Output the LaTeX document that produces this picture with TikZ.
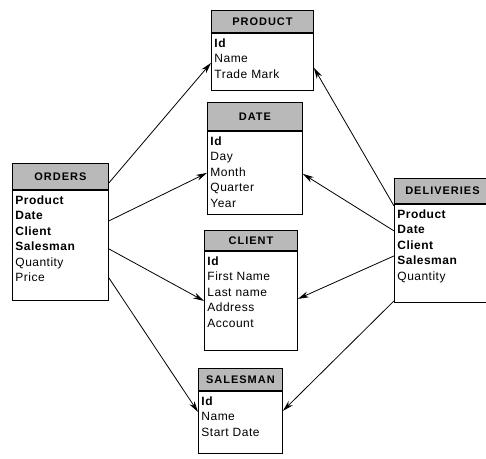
\documentclass[tikz,border=0pt]{standalone}
\usepackage{fontspec}
\setmainfont[LetterSpace=4]{Liberation Sans}
\newfontfamily\hdrfont[LetterSpace=9]{Liberation Sans}
\usetikzlibrary{arrows.meta}
\tikzset{
  thead/.style={draw, fill=gray!55, anchor=north west, inner sep=0pt, font=\hdrfont\bfseries\fontsize{11}{13}\selectfont},
  tbody/.style={draw, fill=white, anchor=north west, align=left, inner xsep=3pt, inner ysep=4pt, text height=10pt, font=\fontsize{12}{15.5}\selectfont},
  link/.style={-{Stealth[length=11pt,width=6pt]}, line width=0.8pt}
}
\begin{document}
\begin{tikzpicture}[x=1pt, y=-1pt, line width=0.9pt]
\useasboundingbox (0,0) rectangle (486,458);
% dimension tables
\node[thead, minimum width=102pt, minimum height=22pt] (prodh) at (211,10) {PRODUCT};
\node[tbody, text width=96pt, text depth=39pt] (prod) at (prodh.south west) {\textbf{Id}\\Name\\Trade Mark};
\node[thead, minimum width=95pt, minimum height=28pt] (dateh) at (207,102) {DATE};
\node[tbody, text width=89pt, text depth=65pt] (date) at (dateh.south west) {\textbf{Id}\\Day\\Month\\Quarter\\Year};
\node[thead, minimum width=93pt, minimum height=20pt] (clih) at (204,230) {CLIENT};
\node[tbody, text width=87pt, text depth=81pt] (cli) at (clih.south west) {\textbf{Id}\\First Name\\Last name\\Address\\Account};
\node[thead, minimum width=84pt, minimum height=22pt] (salh) at (198,368) {SALESMAN};
\node[tbody, text width=78pt, text depth=44pt] (sal) at (salh.south west) {\textbf{Id}\\Name\\Start Date};
% fact tables
\node[thead, minimum width=96pt, minimum height=26pt] (ordh) at (12,163) {ORDERS};
\node[tbody, text width=90pt, text depth=92pt] (ord) at (ordh.south west) {\textbf{Product}\\\textbf{Date}\\\textbf{Client}\\\textbf{Salesman}\\Quantity\\Price};
\node[thead, minimum width=96pt, minimum height=25pt] (delh) at (394,178) {DELIVERIES};
\node[tbody, text width=90pt, text depth=80pt] (del) at (delh.south west) {\textbf{Product}\\\textbf{Date}\\\textbf{Client}\\\textbf{Salesman}\\Quantity};
\foreach \dy/\n/\ey in {7/prod/-30, -31/date/-42, -59/cli/-50, -88/sal/-21}
  \draw[link] ([yshift=\dy pt]ord.north east) -- ([yshift=\ey pt]\n.north west);
\foreach \dy/\n/\ey in {-2/prod/-35, -27/date/-43, -52/cli/-48, -97/sal/-20}
  \draw[link] ([yshift=\dy pt]del.north west) -- ([yshift=\ey pt]\n.north east);
\end{tikzpicture}
\end{document}
